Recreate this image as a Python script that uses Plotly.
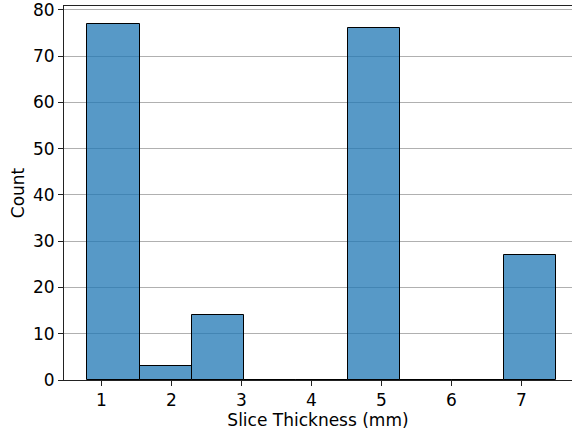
import plotly.graph_objects as go

bin_edges = [0.8 + i * (7.5 - 0.8) / 9 for i in range(10)]
counts = [77, 3, 14, 0, 0, 76, 0, 0, 27]
x_ticks = [1, 2, 3, 4, 5, 6, 7]
y_ticks = [0, 10, 20, 30, 40, 50, 60, 70, 80]

centers = [(bin_edges[i] + bin_edges[i + 1]) / 2 for i in range(len(counts))]
widths = [bin_edges[i + 1] - bin_edges[i] for i in range(len(counts))]

fig = go.Figure(go.Bar(
    x=centers, y=counts, width=widths,
    marker=dict(color="rgba(31,119,180,0.75)", line=dict(color="black", width=1)),
))

font = dict(family="DejaVu Sans", size=17, color="black")
fig.update_layout(
    width=572, height=431,
    margin=dict(l=64, r=0, t=6, b=51, autoexpand=False),
    plot_bgcolor="white", paper_bgcolor="white",
    font=font, showlegend=False, bargap=0,
    xaxis=dict(
        range=[0.465, 7.722], tickvals=x_ticks, ticktext=[str(v) for v in x_ticks],
        showgrid=False, zeroline=False, showline=True, linecolor="#222", linewidth=1,
        mirror=True, ticks="outside", ticklen=5, tickcolor="#222", automargin=False,
        title=dict(text="Slice Thickness (mm)", standoff=2, font=font),
    ),
    yaxis=dict(
        range=[0, 80.85], tickvals=y_ticks, showgrid=True, gridcolor="#b0b0b0", gridwidth=1,
        zeroline=False, showline=True, linecolor="#222", linewidth=1, automargin=False,
        ticks="outside", ticklen=5, tickcolor="#222", ticklabeloverflow="allow",
        title=dict(text="Count", standoff=4, font=font),
    ),
)
fig.write_html("out.html", config={"displayModeBar": False},
               post_script="document.body.style.margin='0';")
